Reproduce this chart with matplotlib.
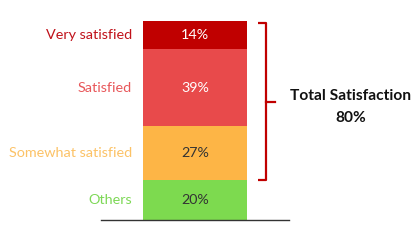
import matplotlib
matplotlib.use('Agg')
import matplotlib.pyplot as plt

plt.rcParams['font.family'] = ['Lato', 'DejaVu Sans']

# data, bottom to top
labels = ["Others", "Somewhat satisfied", "Satisfied", "Very satisfied"]
values = [20, 27, 39, 14]
bar_colors = ["#7dda4f", "#fdb546", "#e84a4b", "#c00000"]
label_colors = ["#7dd856", "#fcc266", "#e8575a", "#c0111a"]
value_colors = ["#333333", "#333333", "white", "white"]
total_label = "Total Satisfaction"
total_value = "80%"

fig = plt.figure(figsize=(4.18, 2.4), dpi=100)
ax = fig.add_axes([0, 20 / 240, 1, 199 / 240])
ax.set_xlim(-1.875, 2.144)
ax.set_ylim(0, 100)
ax.axis('off')

bottom = 0
for lab, v, c, lc, vc in zip(labels, values, bar_colors, label_colors, value_colors):
    ax.bar(0, v, width=1, bottom=bottom, color=c, edgecolor='none')
    mid = bottom + v / 2
    ax.text(0, mid, str(v) + "%", ha='center', va='center', color=vc, fontsize=10.3)
    ax.text(-0.606, mid, lab, ha='right', va='center', color=lc, fontsize=10.4)
    bottom += v

# baseline
ax.plot([-0.904, 0.904], [0, 0], color='#333333', lw=1, clip_on=False)

# bracket over the top three segments
b_lo = values[0]
b_hi = sum(values) - 1
b_mid = (b_lo + b_hi) / 2
bc = '#c00000'
ax.plot([0.606, 0.683, 0.683, 0.606], [b_hi, b_hi, b_lo, b_lo], color=bc, lw=1.6,
        solid_joinstyle='round', solid_capstyle='butt')
ax.plot([0.683, 0.77], [b_mid, b_mid], color=bc, lw=1.6)

ax.text(1.5, 62.3, total_label, ha='center', va='center', fontsize=11.2,
        fontweight='bold', color='#111111')
ax.text(1.5, 51.5, total_value, ha='center', va='center', fontsize=11.2,
        fontweight='bold', color='#111111')

fig.savefig('out.png', dpi=100, facecolor='white')
